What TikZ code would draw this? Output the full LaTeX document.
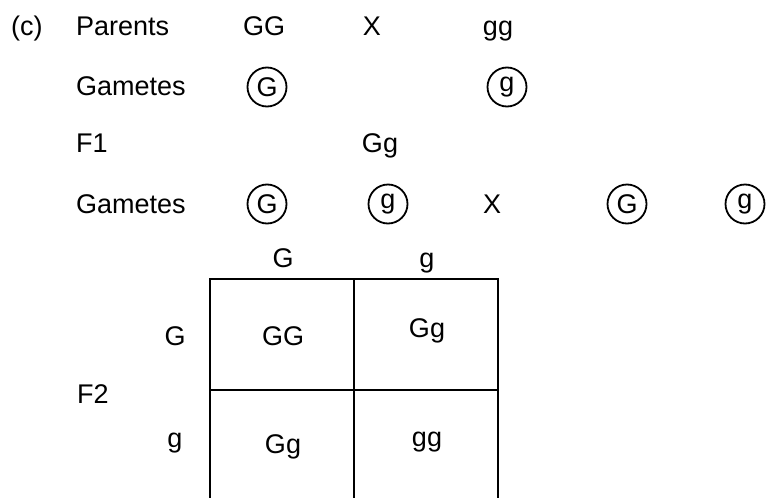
\documentclass[tikz,border=0pt]{standalone}
\usepackage{fontspec}
\setmainfont{Liberation Sans}
\begin{document}
\begin{tikzpicture}[x=1pt,y=-1pt,
  lbl/.style={anchor=base,inner sep=0pt,font=\fontsize{27}{32}\selectfont},
  lbll/.style={anchor=base west,inner sep=0pt,font=\fontsize{27}{32}\selectfont},
  gam/.style={circle,draw,line width=1.8pt,minimum size=39pt,inner sep=0pt,font=\fontsize{27}{32}\selectfont},
  gridline/.style={line width=2.4pt}]
\useasboundingbox (0,0) rectangle (766,498);
% row 1
\node[lbll] (c) at (11,35) {(c)};
\node[lbll] (par) at (76,35) {Parents};
\node[lbl] (pGG) at (264,35) {GG};
\node[lbl] (pX) at (372,35) {X};
\node[lbl] (pgg) at (498,35) {gg};
% row 2
\node[lbll] (gam1) at (76,95) {Gametes};
\node[gam] (g1G) at (267,87) {G};
\node[gam] (g1g) at (507,87) {g};
% row 3
\node[lbll] (f1) at (76,152) {F1};
\node[lbl] (f1Gg) at (380,152) {Gg};
% row 4
\node[lbll] (gam2) at (76,213) {Gametes};
\node[gam] (g2G) at (267,204) {G};
\node[gam] (g2g) at (388,204) {g};
\node[lbl] (g2X) at (492,213) {X};
\node[gam] (g3G) at (627,204) {G};
\node[gam] (g3g) at (745,204) {g};
% Punnett square
\coordinate (tl) at (210,279);
\coordinate (tm) at (354,279);
\coordinate (tr) at (498,279);
\coordinate (ml) at (210,390);
\coordinate (mr) at (498,390);
\coordinate (bl) at (210,502);
\coordinate (bm) at (354,502);
\coordinate (br) at (498,502);
\draw[gridline] (bl) -- (tl) -- (tr) -- (br);
\draw[gridline] (tm) -- (bm);
\draw[gridline] (ml) -- (mr);
\node[lbl] (colG) at (283,267) {G};
\node[lbl] (colg) at (427,267) {g};
\node[lbl] (rowG) at (175,345) {G};
\node[lbl] (rowg) at (175,447) {g};
\node[lbl] (f2) at (93,403) {F2};
\node[lbl] (cGG) at (283,345) {GG};
\node[lbl] (cGg1) at (427,337) {Gg};
\node[lbl] (cGg2) at (283,453) {Gg};
\node[lbl] (cgg) at (427,446) {gg};
\end{tikzpicture}
\end{document}
